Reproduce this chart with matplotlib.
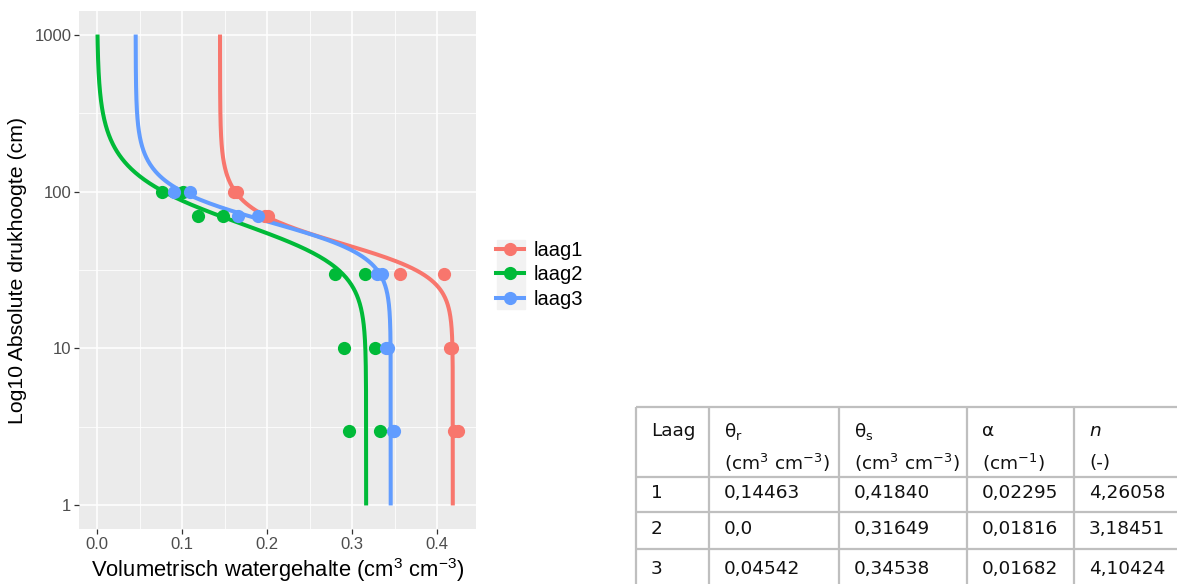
import numpy as np
import matplotlib
matplotlib.use('Agg')
import matplotlib.pyplot as plt
from matplotlib.lines import Line2D
from matplotlib.patches import Rectangle

# van Genuchten parameters (from the table)
lagen = ['laag1', 'laag2', 'laag3']
theta_r = [0.14463, 0.0, 0.04542]
theta_s = [0.41840, 0.31649, 0.34538]
alpha = [0.02295, 0.01816, 0.01682]
n_par = [4.26058, 3.18451, 4.10424]

# measured points (two replicates per pressure head)
h_obs = [100, 100, 70, 70, 30, 30, 10, 10, 3, 3]
theta_laag1 = [0.161, 0.165, 0.198, 0.201, 0.356, 0.4085, 0.415, 0.417, 0.420, 0.424]
theta_laag2 = [0.076, 0.1015, 0.119, 0.148, 0.2795, 0.3146, 0.290, 0.3264, 0.296, 0.3327]
theta_laag3 = [0.091, 0.109, 0.166, 0.189, 0.3288, 0.3355, 0.340, 0.3425, 0.3481, 0.349]
obs = [theta_laag1, theta_laag2, theta_laag3]

kleuren = ['#F8766D', '#00BA38', '#619CFF']

tabel_kop1 = ['Laag', 'θ$_r$', 'θ$_s$', 'α', 'n']
tabel_kop2 = ['', '(cm$^3$ cm$^{-3}$)', '(cm$^3$ cm$^{-3}$)', '(cm$^{-1}$)', '(-)']
tabel_rijen = [['1', '0,14463', '0,41840', '0,02295', '4,26058'],
               ['2', '0,0', '0,31649', '0,01816', '3,18451'],
               ['3', '0,04542', '0,34538', '0,01682', '4,10424']]

plt.rcParams['mathtext.default'] = 'regular'

W, H = 1177, 584
fig = plt.figure(figsize=(W / 100, H / 100), dpi=100)


def fx(x):
    return x / W


def fy(y):
    return 1 - y / H


ax = fig.add_axes([fx(79), fy(529), fx(476) - fx(79), fy(11) - fy(529)])
ax.set_facecolor('#EBEBEB')
for s in ax.spines.values():
    s.set_visible(False)

h = np.logspace(0, 3, 400)
for i in range(3):
    m = 1 - 1 / n_par[i]
    th = theta_r[i] + (theta_s[i] - theta_r[i]) * (1 + (alpha[i] * h) ** n_par[i]) ** (-m)
    ax.plot(th, h, color=kleuren[i], lw=2.9, zorder=3, solid_capstyle='butt')
for i in range(3):
    ax.plot(obs[i], h_obs, 'o', color=kleuren[i], ms=9.5, mec='none', zorder=4)

ax.set_yscale('log')
ax.set_ylim(10 ** -0.15, 10 ** 3.15)
ax.set_xlim(-0.0212, 0.4457)
ax.set_xticks([0.0, 0.1, 0.2, 0.3, 0.4])
ax.set_xticklabels(['0.0', '0.1', '0.2', '0.3', '0.4'])
ax.set_xticks([0.05, 0.15, 0.25, 0.35], minor=True)
ax.set_yticks([1, 10, 100, 1000])
ax.set_yticklabels(['1', '10', '100', '1000'])
ax.set_yticks([10 ** 0.5, 10 ** 1.5, 10 ** 2.5], minor=True)
ax.yaxis.set_minor_formatter(matplotlib.ticker.NullFormatter())
ax.grid(True, which='major', color='white', lw=1.1)
ax.grid(True, which='minor', color='white', lw=0.55)
ax.set_axisbelow(True)
ax.tick_params(which='major', length=3.5, width=0.9, color='#333333',
               labelcolor='#4D4D4D', labelsize=12, pad=2)
ax.tick_params(which='minor', length=0)
for lab in ax.get_xticklabels() + ax.get_yticklabels():
    lab.set_family('Liberation Sans')

ax.set_xlabel('Volumetrisch watergehalte (cm$^3$ cm$^{-3}$)', family='Liberation Sans',
              fontsize=15.8, labelpad=3)
ax.set_ylabel('Log10 Absolute drukhoogte (cm)', family='Liberation Sans',
              fontsize=15.3, labelpad=5)

# legend
fig.add_artist(Rectangle((fx(497), fy(309)), fx(525) - fx(497), fy(240) - fy(309),
                         transform=fig.transFigure, color='#F2F2F2', zorder=0))
handles = [Line2D([], [], color=k, lw=2.9, marker='o', ms=9.5, mec='none') for k in kleuren]
leg = fig.legend(handles, lagen, loc='center left', bbox_to_anchor=(fx(496), fy(275)),
                 frameon=False, handlelength=1.4, handletextpad=0.45, labelspacing=0.28,
                 borderpad=0, borderaxespad=0, prop={'family': 'Liberation Sans', 'size': 14.5})

# table
col_x = [636, 709, 839, 967, 1074, 1177]
row_y = [407, 477, 512, 549, 590]
lijn = dict(color='#BFBFBF', lw=1.6, transform=fig.transFigure, solid_capstyle='butt')
for y in row_y[:-1]:
    fig.add_artist(Line2D([fx(col_x[0]), fx(col_x[-1])], [fy(y), fy(y)], **lijn))
for x in col_x[:-1]:
    fig.add_artist(Line2D([fx(x), fx(x)], [fy(row_y[0]), fy(row_y[-1])], **lijn))

tk = dict(family='DejaVu Sans', fontsize=13.3, color='#111111', va='center', ha='left')
for j in range(5):
    x0 = fx(col_x[j] + 15)
    fig.text(x0, fy(431), tabel_kop1[j], style='italic' if j == 4 else 'normal', **tk)
    fig.text(x0, fy(463), tabel_kop2[j], **tk)
    for r, rij in enumerate(tabel_rijen):
        fig.text(x0, fy((row_y[r + 1] + row_y[r + 2]) / 2 - 1), rij[j], **tk)

fig.savefig('out.png', dpi=100)
